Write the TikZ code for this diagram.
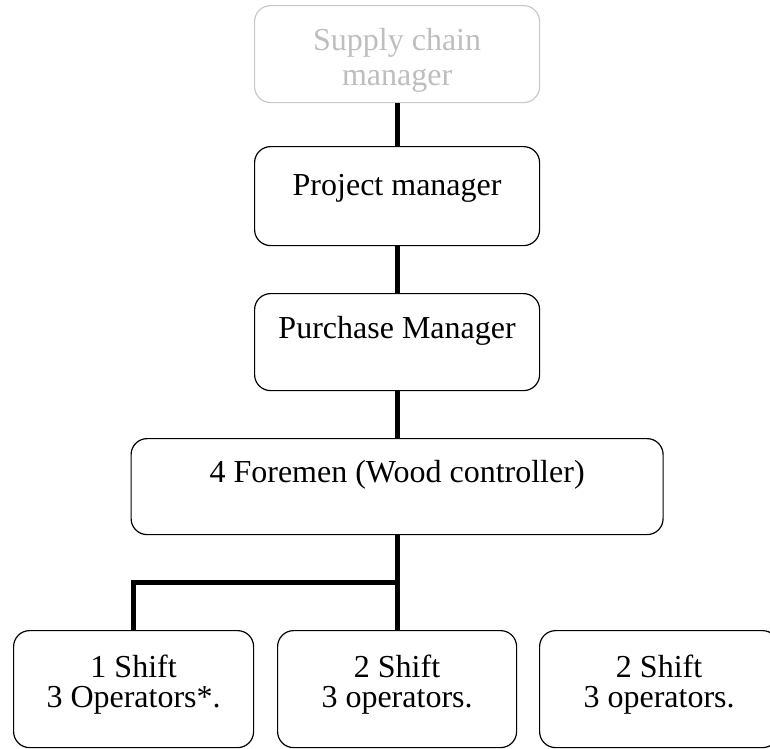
\documentclass[tikz,border=0pt]{standalone}
\usepackage{fontspec}
\setmainfont{Liberation Serif}
\usetikzlibrary{calc}
\definecolor{boxgrey}{RGB}{200,200,200}
\definecolor{textgrey}{RGB}{190,190,190}
\tikzset{
  box/.style={draw, rounded corners=16pt, line width=1.2pt, inner sep=0pt, align=center,
    anchor=north west, font=\fontsize{32}{30}\selectfont},
  link/.style={line width=4.8pt}
}

\begin{document}
\begin{tikzpicture}[x=1pt, y=-1pt]
    \useasboundingbox (0,0) rectangle (770,748);
    \node[box, draw=boxgrey, text=textgrey, minimum width=285pt, text height=80pt, text depth=17pt,
      font=\fontsize{32}{35}\selectfont] (supply) at (254,5) {Supply chain\\manager};
    \node[box, minimum width=285pt, text height=49pt, text depth=50pt] (project) at (254,146) {Project manager};
    \node[box, minimum width=285pt, text height=45pt, text depth=52pt] (purchase) at (254,293) {Purchase Manager};
    \node[box, minimum width=532pt, text height=44pt, text depth=52pt] (foremen) at (130.5,438) {4 Foremen (Wood controller)};
    \node[box, minimum width=240pt, text height=77pt, text depth=40pt] (shift1) at (13,630) {1 Shift\\3 Operators*.};
    \node[box, minimum width=239pt, text height=77pt, text depth=40pt] (shift2) at (277,630) {2 Shift\\3 operators.};
    \node[box, minimum width=239pt, text height=77pt, text depth=40pt] (shift3) at (539,630) {2 Shift\\3 operators.};

    \draw[link] (supply) -- (project);
    \draw[link] (project) -- (purchase);
    \draw[link] (purchase) -- (foremen);
    \draw[link] (foremen.south) -- (shift2.north);
    \coordinate (split) at ($(foremen.south)!0.5!(shift2.north)$);
    \draw[link] (split) -| (shift1.north);
\end{tikzpicture}
\end{document}
